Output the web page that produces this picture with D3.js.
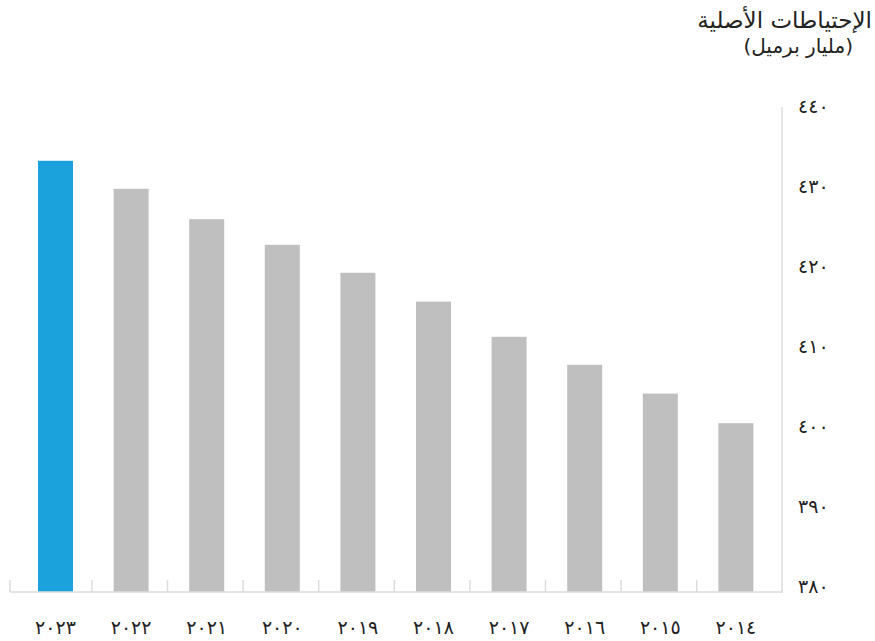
<!DOCTYPE html>
<html><head><meta charset="utf-8">
<script src="https://cdn.jsdelivr.net/npm/d3@7"></script>
<style>html,body{margin:0;padding:0;background:#fff;}svg{display:block;}</style>
</head><body>
<svg id="c" width="875" height="641"></svg>
<script>
const years = ["2023","2022","2021","2020","2019","2018","2017","2016","2015","2014"];
const yearLabels = ["٢٠٢٣","٢٠٢٢","٢٠٢١","٢٠٢٠","٢٠١٩","٢٠١٨","٢٠١٧","٢٠١٦","٢٠١٥","٢٠١٤"];
const reserves = [433.9, 430.4, 426.6, 423.4, 419.9, 416.3, 411.9, 408.4, 404.8, 401.1];
const yTicks = [380, 390, 400, 410, 420, 430, 440];
const yTickLabels = ["٣٨٠","٣٩٠","٤٠٠","٤١٠","٤٢٠","٤٣٠","٤٤٠"];
const title = "الإحتياطات الأصلية";
const subtitle = "(مليار برميل)";

const svg = d3.select("#c");
const x = d3.scaleBand().domain(years).range([17, 773]).padding(0);
const y = d3.scaleLinear().domain([380, 440]).range([592, 112]);
const barW = 35;
const axisColor = "#dcdcdc";

// bars
svg.append("g").selectAll("rect").data(years).join("rect")
  .attr("x", d => x(d) + (x.bandwidth() - barW) / 2 + 0.7)
  .attr("width", barW)
  .attr("y", (d, i) => y(reserves[i]))
  .attr("height", (d, i) => y(380) - y(reserves[i]))
  .attr("fill", (d, i) => i === 0 ? "#1ba1dc" : "#bfbfbf");

// baseline and right axis line
svg.append("line").attr("x1", 10).attr("x2", 782).attr("y1", y(380)).attr("y2", y(380))
  .attr("stroke", axisColor).attr("stroke-width", 1.5);
svg.append("line").attr("x1", 782).attr("x2", 782).attr("y1", y(440) - 5).attr("y2", y(380) + 0.75)
  .attr("stroke", axisColor).attr("stroke-width", 1.5);

// category separator ticks
const sepX = [10].concat(years.slice(1).map(d => x(d) - 0.7));
svg.append("g").selectAll("line").data(sepX).join("line")
  .attr("x1", d => d).attr("x2", d => d)
  .attr("y1", y(380) - 12).attr("y2", y(380))
  .attr("stroke", axisColor).attr("stroke-width", 1.5);

// x axis labels
const xAxis = d3.axisBottom(x).tickSize(0).tickPadding(0)
  .tickFormat((d, i) => yearLabels[i]);
const gx = svg.append("g").attr("transform", `translate(0.7,${y(380)})`).call(xAxis);
gx.select(".domain").remove();
gx.selectAll("text").attr("y", 42).attr("dy", 0)
  .attr("font-family", "'DejaVu Serif','DejaVu Sans',serif")
  .attr("font-size", 19).attr("letter-spacing", 2).attr("fill", "#222");

// y axis labels
const yAxis = d3.axisRight(y).tickValues(yTicks).tickSize(0).tickPadding(0)
  .tickFormat((d, i) => yTickLabels[i]);
const gy = svg.append("g").attr("transform", "translate(798,0)").call(yAxis);
gy.select(".domain").remove();
gy.selectAll("text").attr("x", 0).attr("dy", 0).attr("y", 0)
  .attr("font-family", "'DejaVu Serif','DejaVu Sans',serif")
  .attr("font-size", 19).attr("letter-spacing", 1).attr("fill", "#222").attr("text-anchor", "start");

// titles (RTL: start anchor = right edge)
svg.append("text").attr("x", 872).attr("y", 28).attr("text-anchor", "start")
  .attr("direction", "rtl")
  .attr("font-family", "'DejaVu Sans',sans-serif").attr("font-size", 23).attr("fill", "#222")
  .text(title);
svg.append("text").attr("x", 853).attr("y", 53).attr("text-anchor", "start")
  .attr("direction", "rtl")
  .attr("font-family", "'DejaVu Sans',sans-serif").attr("font-size", 20).attr("fill", "#222")
  .text(subtitle);
</script>
</body></html>
